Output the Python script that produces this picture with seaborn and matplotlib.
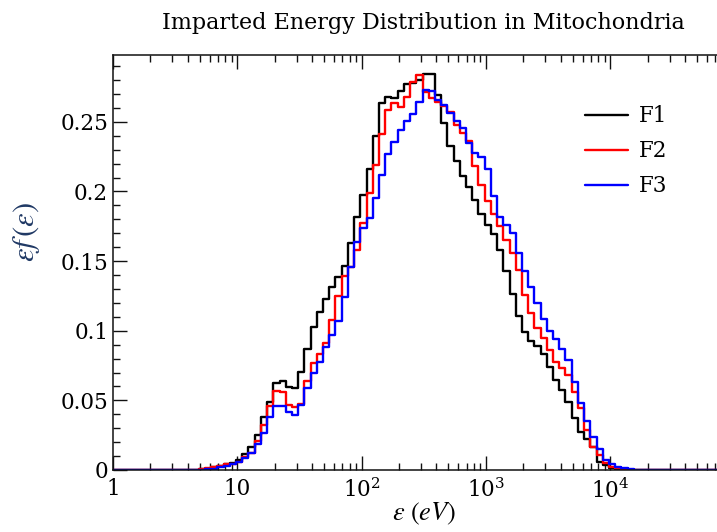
import numpy as np
import pandas as pd
import matplotlib

matplotlib.use("Agg")
import matplotlib.pyplot as plt
import seaborn as sns
from matplotlib.ticker import FixedLocator, MultipleLocator, LogLocator, NullFormatter

# 20 log bins per decade; values below start at bin 14 (~5 eV), zero elsewhere
first_bin = 14
bins_per_decade = 20

f1_vals = [0.0005, 0.001, 0.002, 0.003, 0.004, 0.005, 0.007, 0.0115, 0.0167, 0.025,
           0.038, 0.049, 0.0627, 0.064, 0.0595, 0.059, 0.0705, 0.0866, 0.1027, 0.1137,
           0.1226, 0.1312, 0.1385, 0.1468, 0.163, 0.182, 0.1975, 0.2163, 0.24, 0.2633,
           0.2675, 0.267, 0.2722, 0.277, 0.2776, 0.2797, 0.2842, 0.2842, 0.2693, 0.2495,
           0.2326, 0.222, 0.2111, 0.2032, 0.1936, 0.184, 0.1762, 0.1697, 0.158, 0.1432,
           0.1265, 0.1106, 0.0993, 0.0925, 0.089, 0.0833, 0.074, 0.0648, 0.0577, 0.0487,
           0.0371, 0.0275, 0.022, 0.0167, 0.006, 0.0036, 0.0012, 0.0005]
f2_vals = [0.001, 0.0015, 0.0025, 0.003, 0.004, 0.0045, 0.006, 0.009, 0.0124, 0.021,
           0.0325, 0.046, 0.057, 0.0558, 0.0467, 0.0455, 0.0474, 0.0641, 0.0766, 0.0835,
           0.0915, 0.1075, 0.125, 0.139, 0.1458, 0.158, 0.1775, 0.1987, 0.219, 0.2412,
           0.2585, 0.2633, 0.261, 0.2676, 0.2788, 0.2836, 0.2715, 0.267, 0.264, 0.2615,
           0.257, 0.248, 0.242, 0.236, 0.218, 0.205, 0.193, 0.184, 0.175, 0.165,
           0.1556, 0.1436, 0.126, 0.1125, 0.1017, 0.095, 0.0865, 0.0775, 0.0733, 0.068,
           0.0562, 0.0443, 0.0287, 0.0167, 0.0108, 0.0048, 0.0024, 0.0012, 0.0005]
f3_vals = [0.0, 0.0005, 0.001, 0.002, 0.003, 0.0045, 0.0055, 0.0085, 0.0125, 0.019,
           0.0268, 0.0383, 0.046, 0.046, 0.0419, 0.0395, 0.0467, 0.0586, 0.0694, 0.0778,
           0.0883, 0.0969, 0.1068, 0.124, 0.1455, 0.1639, 0.1735, 0.181, 0.195, 0.212,
           0.2267, 0.2353, 0.2441, 0.2506, 0.2554, 0.2645, 0.2728, 0.2721, 0.2657, 0.262,
           0.2561, 0.2508, 0.2453, 0.2346, 0.2274, 0.225, 0.2159, 0.1967, 0.1819, 0.1759,
           0.17, 0.1556, 0.1431, 0.1316, 0.1197, 0.1082, 0.1, 0.0938, 0.087, 0.079,
           0.0634, 0.0479, 0.0354, 0.0239, 0.0148, 0.0072, 0.0041, 0.0024, 0.0012, 0.0005]

series_names = ["F1", "F2", "F3"]
series_vals = [f1_vals, f2_vals, f3_vals]
palette = {"F1": "black", "F2": "#ff0000", "F3": "#0000ff"}

xtick_vals = [1, 10, 100, 1000, 10000]
xtick_labels = ["1", "10", r"$\mathregular{10^{2}}$", r"$\mathregular{10^{3}}$",
                r"$\mathregular{10^{4}}$"]
ytick_vals = [0, 0.05, 0.1, 0.15, 0.2, 0.25]
ytick_labels = ["0", "0.05", "0.1", "0.15", "0.2", "0.25"]

# build step data (edges + repeated last height for steps-post)
n_bins = 5 * bins_per_decade
edges = 10 ** ((np.arange(n_bins + 1) - 0.2) / bins_per_decade)
rows = []
for name, vals in zip(series_names, series_vals):
    h = np.zeros(n_bins)
    h[first_bin:first_bin + len(vals)] = vals
    h = np.append(h, h[-1])
    rows.append(pd.DataFrame({"energy": edges, "ef": h, "series": name}))
df = pd.concat(rows, ignore_index=True)

sns.set_theme(style="ticks")
plt.rcParams["font.family"] = ["DejaVu Serif"]
plt.rcParams["mathtext.fontset"] = "stix"
plt.rcParams["text.color"] = "black"
plt.rcParams["axes.labelcolor"] = "black"
plt.rcParams["xtick.color"] = "black"
plt.rcParams["ytick.color"] = "black"
plt.rcParams["xtick.direction"] = "in"
plt.rcParams["ytick.direction"] = "in"
plt.rcParams["xtick.top"] = True
plt.rcParams["ytick.right"] = True

fig = plt.figure(figsize=(7.17, 5.32), dpi=100)
ax = fig.add_axes([113 / 717, 62 / 532, 621.5 / 717, 415 / 532])

sns.lineplot(
    data=df, x="energy", y="ef", hue="series", palette=palette,
    drawstyle="steps-post", estimator=None, sort=False,
    linewidth=1.7, ax=ax,
)

ax.set_xscale("log")
ax.set_xlim(1, 1e5)
ax.set_ylim(0, 0.298)

ax.xaxis.set_major_locator(FixedLocator(xtick_vals))
ax.set_xticklabels(xtick_labels)
ax.xaxis.set_minor_locator(LogLocator(base=10, subs=np.arange(2, 10)))
ax.xaxis.set_minor_formatter(NullFormatter())
ax.yaxis.set_major_locator(FixedLocator(ytick_vals))
ax.set_yticklabels(ytick_labels)
ax.yaxis.set_minor_locator(MultipleLocator(0.01))

ax.tick_params(which="major", length=10, width=1, labelsize=15.5, color="#111111")
ax.tick_params(which="minor", length=5, width=1, color="#111111")
ax.tick_params(axis="x", which="major", pad=6)
for s in ax.spines.values():
    s.set_linewidth(1.1)
    s.set_color("#111111")

ax.set_xlabel(r"$\varepsilon\ (eV)$", fontsize=19, labelpad=-1)
ax.set_ylabel(r"$\varepsilon f\,(\varepsilon)$", fontsize=22, color="#1f3864")
ax.yaxis.set_label_coords(-0.115, 0.573)
ax.set_title("Imparted Energy Distribution in Mitochondria", fontsize=16, pad=19)

ax.legend(
    loc="upper left", bbox_to_anchor=(566 / 717, 1 - 86 / 532),
    bbox_transform=fig.transFigure, frameon=False, fontsize=15.5,
    handlelength=2.0, labelspacing=0.6, handletextpad=0.5,
)

fig.savefig("out.png", dpi=100)
